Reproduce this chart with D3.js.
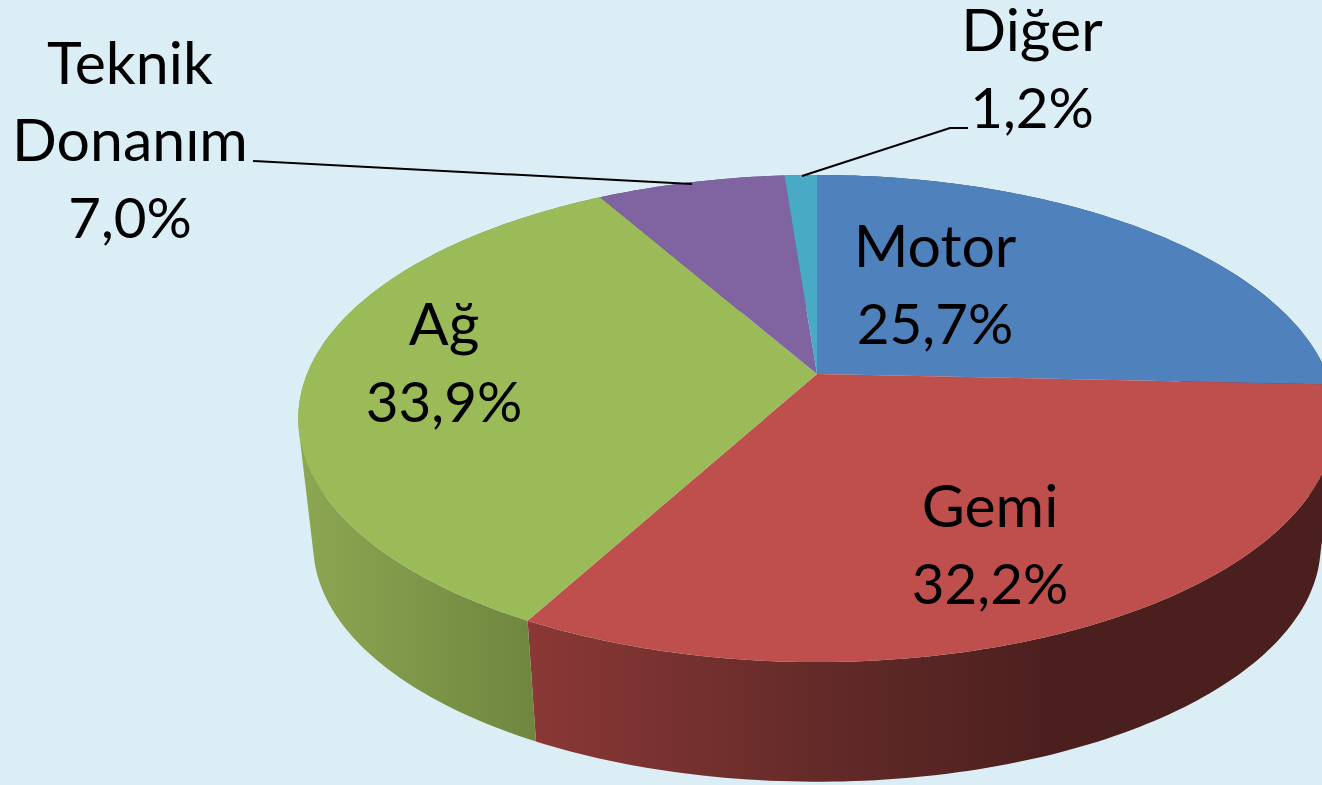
<!DOCTYPE html>
<html>
<head>
<meta charset="utf-8">
<script src="https://cdn.jsdelivr.net/npm/d3@7"></script>
<style>
  html, body { margin: 0; padding: 0; background: #dbeef5; overflow: hidden; }
  svg { display: block; }
  text { font-family: Lato, "Open Sans", sans-serif; font-size: 59px; fill: #000; text-anchor: middle; }
  tspan.share { font-size: 56.5px; }
</style>
</head>
<body>
<div id="main"></div>
<script>
(function() {
  const categories = ["Motor", "Gemi", "Ağ", "Teknik Donanım", "Diğer"];
  const shares = [25.7, 32.2, 33.9, 7.0, 1.2];
  const topColors = ["#4f81bd", "#bf4f4c", "#9bbb59", "#8064a2", "#49aac5"];

  const width = 1322;
  const height = 785;

  // where each label block is centred, and first baseline
  const labelSpots = [
    { x: 935, y: 267 },
    { x: 990, y: 527 },
    { x: 444, y: 345 },
    { x: 130, y: 84 },
    { x: 1032, y: 51 }
  ];
  const lineStep = 77;

  // projective map of the unit circle, fitted to the rim of the pie
  const centerX = 817;
  const centerY = 374;
  const spreadX = 510;
  const spreadY = 235.4;
  const tilt = 0.1828;
  // bottom face is the top face shrunk a bit and moved down
  const bottomScale = 0.971;
  const bottomY = 502;

  function rim(angle) {
    const u = Math.sin(angle);
    const v = -Math.cos(angle);
    const w = 1 - tilt * v;
    return [centerX + spreadX * u / w, centerY + spreadY * v / w];
  }

  function lowerRim(angle) {
    const p = rim(angle);
    return [centerX + bottomScale * (p[0] - centerX), bottomY + bottomScale * (p[1] - centerY)];
  }

  const svg = d3
    .select("#main")
    .append("svg")
    .attr("width", width)
    .attr("height", height);

  const defs = svg.append("defs");

  const wallStops = [
    [{ x: 1100, c: "#2f4d73" }, { x: 1400, c: "#2f4d73" }],
    [{ x: 527, c: "#8b3836" }, { x: 830, c: "#622a28" }, { x: 1060, c: "#4b1f1e" }, { x: 1322, c: "#4b1f1e" }],
    [{ x: 300, c: "#8ca752" }, { x: 535, c: "#6f863f" }],
    [{ x: 600, c: "#5a4672" }, { x: 790, c: "#5a4672" }],
    [{ x: 785, c: "#33788a" }, { x: 817, c: "#33788a" }]
  ];

  wallStops.forEach((stops, i) => {
    const grad = defs.append("linearGradient")
      .attr("id", `wall-${i}`)
      .attr("gradientUnits", "userSpaceOnUse")
      .attr("x1", stops[0].x)
      .attr("x2", stops[stops.length - 1].x)
      .attr("y1", 0)
      .attr("y2", 0);
    stops.forEach(s => {
      grad.append("stop")
        .attr("offset", (s.x - stops[0].x) / (stops[stops.length - 1].x - stops[0].x))
        .attr("stop-color", s.c);
    });
  });

  const pie = d3.pie().sort(null).value(d => d);
  const slices = pie(shares);
  const line = d3.line();
  const step = Math.PI / 180;

  function arcAngles(d) {
    return d3.range(d.startAngle, d.endAngle, step).concat([d.endAngle]);
  }

  // one wall per slice, made of strips all wound the same way so the
  // fold at the silhouette does not cancel out under nonzero fill
  function wallPath(d) {
    return d3.pairs(arcAngles(d)).map(pair => {
      const quad = [rim(pair[0]), rim(pair[1]), lowerRim(pair[1]), lowerRim(pair[0])];
      if (d3.polygonArea(quad) < 0) quad.reverse();
      return line(quad) + "Z";
    }).join("");
  }

  svg.append("g")
    .attr("class", "walls")
    .selectAll("path")
    .data(slices)
    .join("path")
    .attr("d", wallPath)
    .attr("fill", d => `url(#wall-${d.index})`);

  svg.append("g")
    .attr("class", "tops")
    .selectAll("path")
    .data(slices)
    .join("path")
    .attr("d", d => line([[centerX, centerY]].concat(arcAngles(d).map(rim))) + "Z")
    .attr("fill", d => topColors[d.index]);

  // leader lines for the two outside labels
  const leaderDonanim = [[253, 161], [692, 184]];
  const leaderDiger = [[968, 128], [950, 128], [802, 176]];
  svg.append("g")
    .attr("class", "leaders")
    .selectAll("path")
    .data([leaderDonanim, leaderDiger])
    .join("path")
    .attr("d", line)
    .attr("fill", "none")
    .attr("stroke", "#000")
    .attr("stroke-width", 2);

  const comma = d3.formatLocale({ decimal: ",", thousands: ".", grouping: [3], currency: ["", ""] }).format(".1f");

  const labels = svg.append("g")
    .attr("class", "labels")
    .selectAll("text")
    .data(slices)
    .join("text")
    .attr("x", d => labelSpots[d.index].x)
    .attr("y", d => labelSpots[d.index].y);

  labels.each(function(d) {
    const rows = categories[d.index].split(" ").concat([`${comma(d.value)}%`]);
    d3.select(this)
      .selectAll("tspan")
      .data(rows)
      .join("tspan")
      .attr("class", (r, i) => i === rows.length - 1 ? "share" : null)
      .attr("x", labelSpots[d.index].x)
      .attr("dy", (r, i) => i === 0 ? 0 : lineStep)
      .text(r => r);
  });
})();
</script>
</body>
</html>
